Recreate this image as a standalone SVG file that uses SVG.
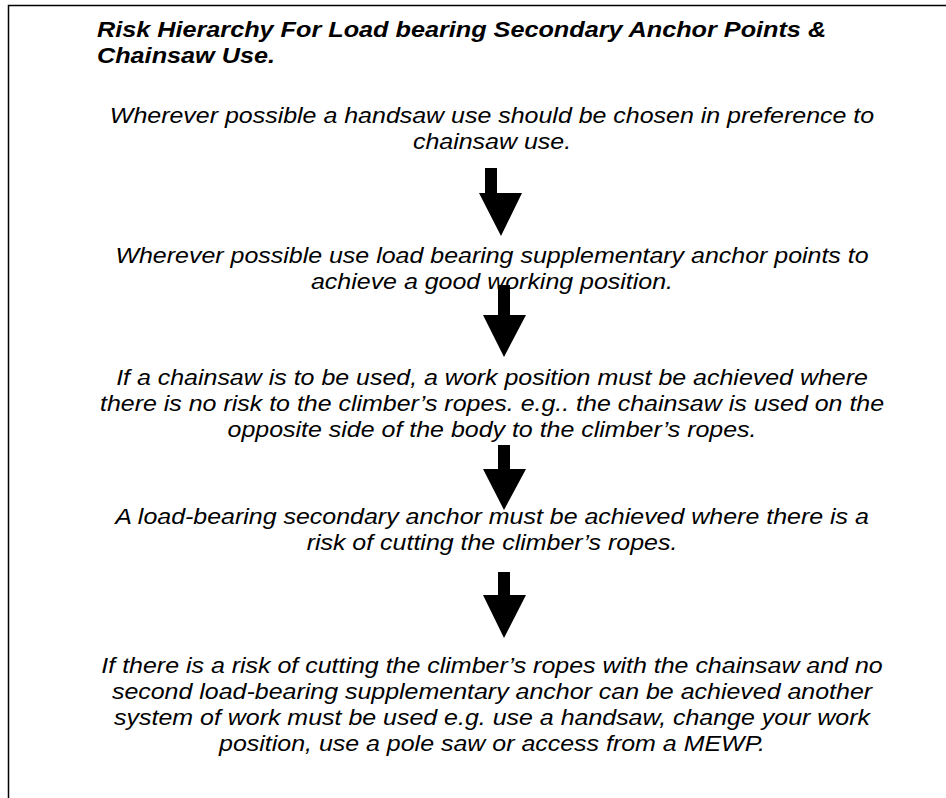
<svg xmlns="http://www.w3.org/2000/svg" width="946" height="798" viewBox="0 0 946 798">
<style>
.t{font-family:"Liberation Sans",Arial,sans-serif;font-size:22px;font-style:italic;fill:#000;text-anchor:middle}
.h{font-family:"Liberation Sans",Arial,sans-serif;font-size:22px;font-style:italic;font-weight:bold;fill:#000}
.a{fill:#000;stroke:none}
</style>
<rect x="0" y="0" width="946" height="798" fill="#fff"/>
<path d="M8.5,800 V5.5 H950" fill="none" stroke="#000" stroke-width="1.5"/>
<g id="title" transform="matrix(1.147,0,0,1,-14.26,0)">
<text class="h" x="97" y="37">Risk Hierarchy For Load bearing Secondary Anchor Points &amp;</text>
<text class="h" x="97" y="63">Chainsaw Use.</text>
</g>
<g id="step1" transform="matrix(1.135,0,0,1,-66.4,0)">
<text class="t" x="492" y="123">Wherever possible a handsaw use should be chosen in preference to</text>
<text class="t" x="492" y="149">chainsaw use.</text>
</g>
<g id="step2" transform="matrix(1.135,0,0,1,-66.4,0)">
<text class="t" x="492" y="263">Wherever possible use load bearing supplementary anchor points to</text>
<text class="t" x="492" y="289">achieve a good working position.</text>
</g>
<g id="step3" transform="matrix(1.135,0,0,1,-66.4,0)">
<text class="t" x="492" y="385">If a chainsaw is to be used, a work position must be achieved where</text>
<text class="t" x="492" y="411">there is no risk to the climber’s ropes. e.g.. the chainsaw is used on the</text>
<text class="t" x="492" y="437">opposite side of the body to the climber’s ropes.</text>
</g>
<g id="step4" transform="matrix(1.135,0,0,1,-66.4,0)">
<text class="t" x="492" y="524">A load-bearing secondary anchor must be achieved where there is a</text>
<text class="t" x="492" y="550">risk of cutting the climber’s ropes.</text>
</g>
<g id="step5" transform="matrix(1.135,0,0,1,-66.4,0)">
<text class="t" x="492" y="673">If there is a risk of cutting the climber’s ropes with the chainsaw and no</text>
<text class="t" x="492" y="699">second load-bearing supplementary anchor can be achieved another</text>
<text class="t" x="492" y="725">system of work must be used e.g. use a handsaw, change your work</text>
<text class="t" x="492" y="751">position, use a pole saw or access from a MEWP.</text>
</g>
<g id="connectors">
<polygon class="a" points="485,168 497,168 497,193 522,193 501,236 479,193 485,193"/>
<polygon class="a" points="498,285 510,285 510,315 526,315 504,357 483,315 498,315"/>
<polygon class="a" points="498,445 510,445 510,469 526,469 504,510 483,469 498,469"/>
<polygon class="a" points="498,572 510,572 510,595 526,595 504,638 483,595 498,595"/>
</g>
</svg>
